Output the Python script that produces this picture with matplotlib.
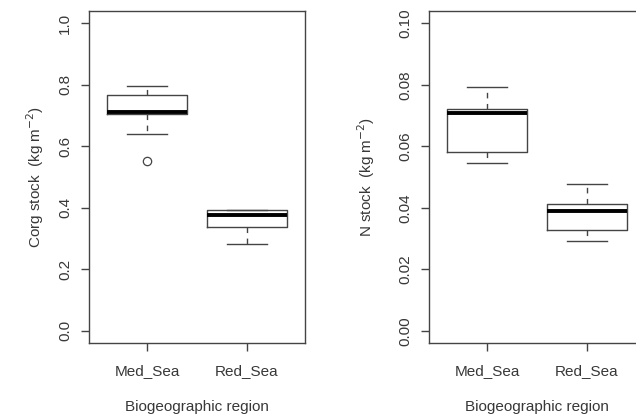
import matplotlib.pyplot as plt

plt.rcParams['font.family'] = ['Liberation Sans', 'DejaVu Sans']

# data (box stats per region)
regions = ["Med_Sea", "Red_Sea"]

corg_whislo = [0.641, 0.282]
corg_q1 = [0.704, 0.338]
corg_med = [0.710, 0.376]
corg_q3 = [0.767, 0.392]
corg_whishi = [0.796, 0.393]
corg_fliers = [[0.551], []]

n_whislo = [0.0545, 0.0293]
n_q1 = [0.0580, 0.0326]
n_med = [0.0707, 0.0388]
n_q3 = [0.0721, 0.0411]
n_whishi = [0.0792, 0.0477]
n_fliers = [[], []]

corg_ticks = [0.0, 0.2, 0.4, 0.6, 0.8, 1.0]
n_ticks = [0.00, 0.02, 0.04, 0.06, 0.08, 0.10]

txt = '#383838'
ln = '#444444'


def make_stats(lo, q1, med, q3, hi, fl):
    out = []
    for i in range(len(regions)):
        out.append(dict(whislo=lo[i], q1=q1[i], med=med[i], q3=q3[i],
                        whishi=hi[i], fliers=fl[i], label=regions[i]))
    return out


def draw_panel(ax, stats, ticks, fmt, ylabel, ylab_x):
    ax.bxp(stats, positions=[1, 2], widths=0.8, showfliers=True,
           boxprops=dict(color=ln, linewidth=1),
           whiskerprops=dict(color=ln, linewidth=1, linestyle=(0, (4, 4))),
           capprops=dict(color=ln, linewidth=1),
           medianprops=dict(color='black', linewidth=2.8),
           flierprops=dict(marker='o', markersize=6, markerfacecolor='none',
                           markeredgecolor=ln, markeredgewidth=0.9),
           capwidths=0.4)
    ax.set_xlim(0.42, 2.58)
    lo, hi = ticks[0], ticks[-1]
    pad = (hi - lo) * 0.04
    ax.set_ylim(lo - pad, hi + pad)
    ax.set_yticks(ticks)
    ax.set_yticklabels([fmt.format(t) for t in ticks], rotation=90, va='center',
                       color=txt, fontsize=11)
    ax.set_xticks([1, 2])
    ax.set_xticklabels(regions, color=txt, fontsize=11)
    ax.tick_params(axis='both', direction='out', length=6, color=ln, width=1)
    ax.tick_params(axis='x', pad=9)
    ax.tick_params(axis='y', pad=6)
    for s in ax.spines.values():
        s.set_color(ln)
        s.set_linewidth(1)
    ax.set_ylabel(ylabel, color=txt, fontsize=11)
    ax.yaxis.set_label_coords(ylab_x, 0.5)
    ax.set_xlabel("Biogeographic region", color=txt, fontsize=11)
    ax.xaxis.set_label_coords(0.5, -0.172)


fig = plt.figure(figsize=(6.36, 4.18), dpi=100)
ax1 = fig.add_axes([89 / 636, 75 / 418, 216 / 636, 332 / 418])
ax2 = fig.add_axes([429 / 636, 75 / 418, 216 / 636, 332 / 418])

draw_panel(ax1, make_stats(corg_whislo, corg_q1, corg_med, corg_q3, corg_whishi, corg_fliers),
           corg_ticks, "{:.1f}", r"Corg stock  (kg m$^{-2}$)", -0.2)
draw_panel(ax2, make_stats(n_whislo, n_q1, n_med, n_q3, n_whishi, n_fliers),
           n_ticks, "{:.2f}", r"N stock  (kg m$^{-2}$)", -0.24)

fig.savefig("out.png", dpi=100)
